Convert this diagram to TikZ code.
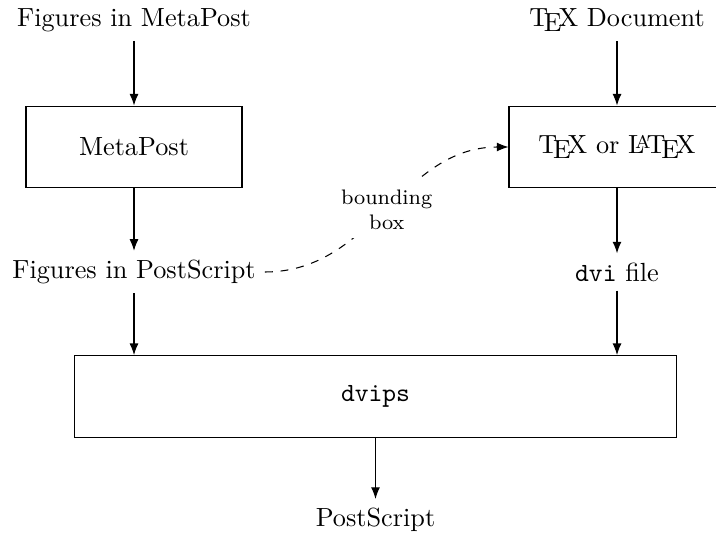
\documentclass[tikz,border=0pt]{standalone}
\usetikzlibrary{arrows.meta}

\tikzset{
  stage/.style={draw, minimum width=82.3pt, minimum height=31.2pt},
  flow/.style={-{Latex[length=4.4pt,width=3.4pt]}},
  bbox/.style={dashed, -{Latex[length=4.4pt,width=3.4pt]}}
}

\begin{document}
\begin{tikzpicture}[x=0.381pt, y=-0.381pt]

  % page frame (pixel units, y downwards)
  \useasboundingbox (0,0) rectangle (716,533);

  % left column: figures
  \node (fmp) at (134,20) {Figures in MetaPost};
  \node[stage] (mp) at (134,147) {MetaPost};
  \node (fps) at (134,272) {Figures in PostScript};

  % right column: document
  \node (texdoc) at (617,20) {\TeX{} Document};
  \node[stage] (tex) at (617,147) {\TeX{} or \LaTeX};
  \node (dvi) at (617,272) {\texttt{dvi} file};

  % bottom: dvips
  \node[stage, minimum width=229.7pt] (dvips) at (375.5,396.5) {\texttt{dvips}};
  \node (ps) at (375.5,520) {PostScript};

  % connectors
  \draw[flow] (fmp) -- (mp);
  \draw[flow] (mp) -- (fps);
  \draw[flow] (fps) -- (fps |- dvips.north);
  \draw[flow] (texdoc) -- (tex);
  \draw[flow] (tex) -- (dvi);
  \draw[flow] (dvi) -- (dvi |- dvips.north);
  \draw[flow] (dvips.south -| ps) -- (ps);

  % bounding box info
  \draw[bbox] (fps.east) to[out=0, in=180]
    node[midway, fill=white, align=center, font=\footnotesize] (bb) {bounding\\box}
    (tex.west);

\end{tikzpicture}
\end{document}
